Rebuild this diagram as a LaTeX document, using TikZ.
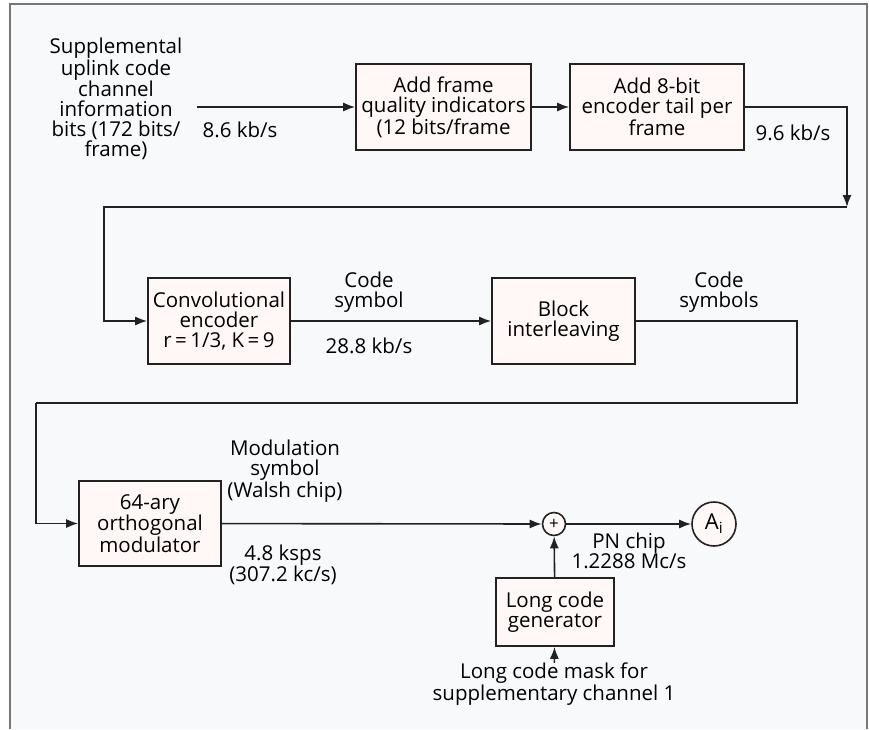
\documentclass[tikz,border=0pt]{standalone}
\usepackage{fontspec}
\setmainfont{Open Sans}
\usetikzlibrary{arrows.meta}
\usetikzlibrary{positioning}

\definecolor{pagebg}{HTML}{F8F9FB}
\definecolor{boxfill}{HTML}{FFF8F6}
\definecolor{frameline}{HTML}{777777}
\definecolor{inkline}{HTML}{222222}

\begin{document}
\begin{tikzpicture}[
  x=1pt, y=-1pt,
  font=\fontsize{20.5pt}{20pt}\selectfont,
  block/.style={draw=inkline, fill=boxfill, line width=1.6pt, rectangle, align=center, inner sep=0pt},
  rate/.style={align=center, inner sep=0pt},
  arr/.style={draw=inkline, line width=1.6pt, -{Latex[length=12pt,width=9pt]}},
  wire/.style={draw=inkline, line width=1.6pt},
]
\useasboundingbox (0,0) rectangle (869,729);

% frame
\fill[pagebg] (10,4) rectangle (867,729);
\draw[frameline, line width=1.6pt] (10,729) -- (10,4) -- (867,4) -- (867,729);

% first row
\node (inbits) [rate] at (116,99) {Supplemental\\uplink code\\channel\\information\\bits (172 bits/\\frame)};
\coordinate (instart) at (197,107);
\node (frameq) [block, minimum width=175pt, minimum height=86pt] at (443.5,107) {Add frame\\quality indicators\\(12 bits/frame};
\node (tail) [block, minimum width=174pt, minimum height=86pt] at (657,107) {Add 8-bit\\encoder tail per\\frame};
\node (r86) [rate] at (240,130) {8.6 kb/s};
\node (r96) [rate] at (793,133) {9.6 kb/s};

\draw[arr] (instart) -- (frameq);
\draw[arr] (frameq) -- (tail);
\coordinate (turnA) at (847,207);
\coordinate (turnB) at (104,207);
\draw[arr] (tail.east) -| (turnA);

% second row
\node (conv) [block, minimum width=142pt, minimum height=86pt] at (219,321) {Convolutional\\encoder\\r\,=\,1/3, K\,=\,9};
\node (interl) [block, minimum width=143pt, minimum height=86pt] at (563.5,321) {Block\\interleaving};
\node (csym) [rate] at (369,292) {Code\\symbol};
\node (r288) [rate] at (369,346) {28.8 kb/s};
\node (csyms) [rate] at (719,292) {Code\\symbols};

\draw[arr] (turnA) -- (turnB) |- (conv.west);
\draw[arr] (conv) -- (interl);
\coordinate (turnC) at (797,403);
\coordinate (turnD) at (36,403);

% third row
\node (walsh) [block, minimum width=142pt, minimum height=85pt] at (150,523.5) {64-ary\\orthogonal\\modulator};
\node (xor) [draw=inkline, fill=boxfill, line width=1.6pt, circle, minimum size=23pt, inner sep=0pt, font=\fontsize{17pt}{17pt}\selectfont] at (554,524) {+};
\node (ai) [draw=inkline, fill=boxfill, line width=1.6pt, circle, minimum size=44pt, inner sep=0pt, font=\fontsize{22pt}{22pt}\selectfont] at (714,524) {A\textsubscript{i}};
\node (modsym) [rate] at (285,471) {Modulation\\symbol\\(Walsh chip)};
\node (r48) [rate] at (283,565) {4.8 ksps\\(307.2 kc/s)};
\node (pnchip) [rate] at (629,551) {PN chip\\1.2288 Mc/s};
\node (longcode) [block, minimum width=118pt, minimum height=68pt] at (555,612) {Long code\\generator};
\node (mask) [rate] at (554,684) {Long code mask for\\supplementary channel 1};

\draw[wire] (interl.east) -| (turnC) -- (turnD);
\draw[arr] (turnD) |- (walsh.west);
\draw[arr] (walsh) -- (xor);
\draw[arr] (xor) -- (ai);
\draw[arr] (longcode) -- (xor);
\draw[arr] (mask) -- (longcode);
\end{tikzpicture}
\end{document}
